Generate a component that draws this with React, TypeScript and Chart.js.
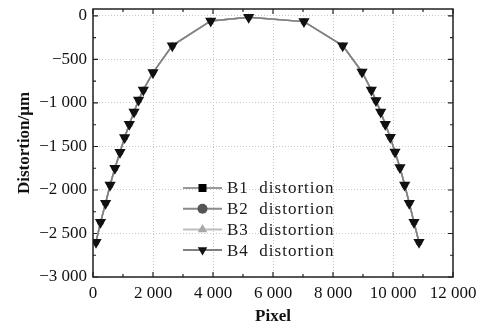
import React, { useEffect, useRef } from "react";
import { Chart, registerables } from "chart.js";

Chart.register(...registerables);

const pixelX = [100, 250, 420, 570, 730, 900, 1055, 1210, 1367, 1520, 1677, 2000, 2643, 3923, 5190, 7033, 8323, 8967, 9277, 9433, 9590, 9743, 9910, 10067, 10233, 10390, 10543, 10700, 10867];
const distortionB1 = [-2600, -2372, -2153, -1943, -1750, -1567, -1398, -1245, -1103, -966, -850, -651, -341, -57, -15, -65, -341, -644, -850, -973, -1103, -1245, -1395, -1563, -1743, -1943, -2153, -2372, -2600];
const distortionB2 = [-2600, -2372, -2153, -1943, -1750, -1567, -1398, -1245, -1103, -966, -850, -651, -341, -57, -15, -65, -341, -644, -850, -973, -1103, -1245, -1395, -1563, -1743, -1943, -2153, -2372, -2600];
const distortionB3 = [-2600, -2372, -2153, -1943, -1750, -1567, -1398, -1245, -1103, -966, -850, -651, -341, -57, -15, -65, -341, -644, -850, -973, -1103, -1245, -1395, -1563, -1743, -1943, -2153, -2372, -2600];
const distortionB4 = [-2600, -2372, -2153, -1943, -1750, -1567, -1398, -1245, -1103, -966, -850, -651, -341, -57, -15, -65, -341, -644, -850, -973, -1103, -1245, -1395, -1563, -1743, -1943, -2153, -2372, -2600];

const seriesNames = ["B1  distortion", "B2  distortion", "B3  distortion", "B4  distortion"];

const xTickValues = [0, 2000, 4000, 6000, 8000, 10000, 12000];
const xTickLabels = ["0", "2 000", "4 000", "6 000", "8 000", "10 000", "12 000"];
const yTickValues = [-3000, -2500, -2000, -1500, -1000, -500, 0];
const yTickLabels = ["\u22123 000", "\u22122 500", "\u22122 000", "\u22121 500", "\u22121 000", "\u2212500", "0"];

const FONT = "'Liberation Serif', 'Times New Roman', serif";

const styles = [
  { line: "#9a9a9a", fill: "#000000", style: "rect", rot: 0, r: 2.5 },
  { line: "#8a8a8a", fill: "#555555", style: "circle", rot: 0, r: 2.5 },
  { line: "#bdbdbd", fill: "#a8a8a8", style: "triangle", rot: 0, r: 2.5 },
  { line: "#7f7f7f", fill: "#111111", style: "triangle", rot: 180, r: 5 },
];

function drawMarker(ctx: CanvasRenderingContext2D, kind: string, rot: number, x: number, y: number, r: number) {
  ctx.beginPath();
  if (kind === "rect") {
    ctx.rect(x - r * 0.8, y - r * 0.8, r * 1.6, r * 1.6);
  } else if (kind === "circle") {
    ctx.arc(x, y, r, 0, Math.PI * 2);
  } else {
    const a0 = (rot * Math.PI) / 180;
    for (let k = 0; k < 3; k++) {
      const a = a0 + (k * 2 * Math.PI) / 3;
      const px = x + Math.sin(a) * r * 1.1;
      const py = y - Math.cos(a) * r * 1.1;
      if (k === 0) ctx.moveTo(px, py);
      else ctx.lineTo(px, py);
    }
    ctx.closePath();
  }
  ctx.fill();
}

const framePlugin = {
  id: "frame",
  beforeDatasetsDraw(chart: any) {
    const { ctx, chartArea } = chart;
    const xs = chart.scales.x;
    const ys = chart.scales.y;
    const { left, right, top, bottom } = chartArea;
    ctx.save();
    ctx.strokeStyle = "#222";
    ctx.lineWidth = 1.5;
    ctx.strokeRect(left, top, right - left, bottom - top);
    ctx.lineWidth = 1.2;
    ctx.beginPath();
    for (let v = 0; v <= 12000; v += 1000) {
      const p = xs.getPixelForValue(v);
      const len = v % 2000 === 0 ? 5 : 3;
      ctx.moveTo(p, bottom);
      ctx.lineTo(p, bottom - len);
      ctx.moveTo(p, top);
      ctx.lineTo(p, top + len);
    }
    for (let v = -3000; v <= 0; v += 250) {
      const p = ys.getPixelForValue(v);
      const len = v % 500 === 0 ? 5 : 3;
      ctx.moveTo(left, p);
      ctx.lineTo(left + len, p);
      ctx.moveTo(right, p);
      ctx.lineTo(right - len, p);
    }
    ctx.stroke();
    ctx.restore();
  },
};

const legendPlugin = {
  id: "innerLegend",
  afterDraw(chart: any) {
    const { ctx } = chart;
    ctx.save();
    const x0 = 183;
    const x1 = 222;
    const tx = 227;
    let y = 188;
    chart.data.datasets.forEach((ds: any, i: number) => {
      const st = styles[i];
      ctx.strokeStyle = st.line;
      ctx.lineWidth = 2;
      ctx.beginPath();
      ctx.moveTo(x0, y);
      ctx.lineTo(x1, y);
      ctx.stroke();
      ctx.fillStyle = st.fill;
      drawMarker(ctx, st.style, st.rot, (x0 + x1) / 2, y, 5);
      ctx.fillStyle = "#1a1a1a";
      ctx.font = `17px ${FONT}`;
      (ctx as any).letterSpacing = "1px";
      ctx.textBaseline = "middle";
      ctx.textAlign = "left";
      ctx.fillText(ds.label, tx, y + 1);
      y += 20.7;
    });
    ctx.restore();
  },
};

export default function App() {
  const ref = useRef<HTMLCanvasElement | null>(null);
  useEffect(() => {
    document.body.style.margin = "0";
    const series = [distortionB1, distortionB2, distortionB3, distortionB4];
    const chart = new Chart(ref.current as HTMLCanvasElement, {
      type: "line",
      data: {
        datasets: series.map((vals, i) => ({
          label: seriesNames[i],
          data: pixelX.map((x, j) => ({ x, y: vals[j] })),
          borderColor: styles[i].line,
          backgroundColor: styles[i].fill,
          pointBackgroundColor: styles[i].fill,
          pointBorderColor: styles[i].fill,
          pointStyle: styles[i].style as any,
          rotation: styles[i].rot,
          pointRadius: styles[i].r,
          borderWidth: 1.5,
          tension: 0,
          order: 3 - i,
        })),
      },
      options: {
        animation: false,
        responsive: false,
        layout: { padding: { top: 9, right: 34, left: 0, bottom: 0 } },
        plugins: { legend: { display: false }, tooltip: { enabled: false } },
        scales: {
          x: {
            type: "linear",
            min: 0,
            max: 12000,
            afterBuildTicks: (s: any) => {
              s.ticks = xTickValues.map((v) => ({ value: v }));
            },
            afterFit: (s: any) => {
              s.height = 52;
              s.paddingLeft = 0;
              s.paddingRight = 0;
            },
            ticks: {
              padding: 6,
              color: "#111",
              font: { family: FONT, size: 17 },
              maxRotation: 0,
              callback: (v: any) => xTickLabels[xTickValues.indexOf(Number(v))],
            },
            grid: { color: "#c8c8c8", drawTicks: false, lineWidth: 1 },
            border: { display: false, dash: [1, 2] },
            title: {
              display: true,
              text: "Pixel",
              color: "#111",
              font: { family: FONT, size: 17, weight: "bold" },
              padding: { top: 0, bottom: 2 },
            },
          },
          y: {
            type: "linear",
            min: -3000,
            max: 80,
            afterBuildTicks: (s: any) => {
              s.ticks = yTickValues.map((v) => ({ value: v }));
            },
            afterFit: (s: any) => {
              s.width = 93;
              s.paddingTop = 0;
              s.paddingBottom = 0;
            },
            ticks: {
              padding: 6,
              color: "#111",
              font: { family: FONT, size: 17 },
              callback: (v: any) => yTickLabels[yTickValues.indexOf(Number(v))],
            },
            grid: { color: "#c8c8c8", drawTicks: false, lineWidth: 1 },
            border: { display: false, dash: [1, 2] },
            title: {
              display: true,
              text: "Distortion/\u03bcm",
              color: "#111",
              font: { family: FONT, size: 17, weight: "bold" },
              padding: { top: 14, bottom: 0 },
            },
          },
        },
      },
      plugins: [framePlugin, legendPlugin],
    } as any);
    return () => chart.destroy();
  }, []);
  return (
    <div style={{ width: 487, height: 329 }}>
      <canvas ref={ref} width={487} height={329} />
    </div>
  );
}
